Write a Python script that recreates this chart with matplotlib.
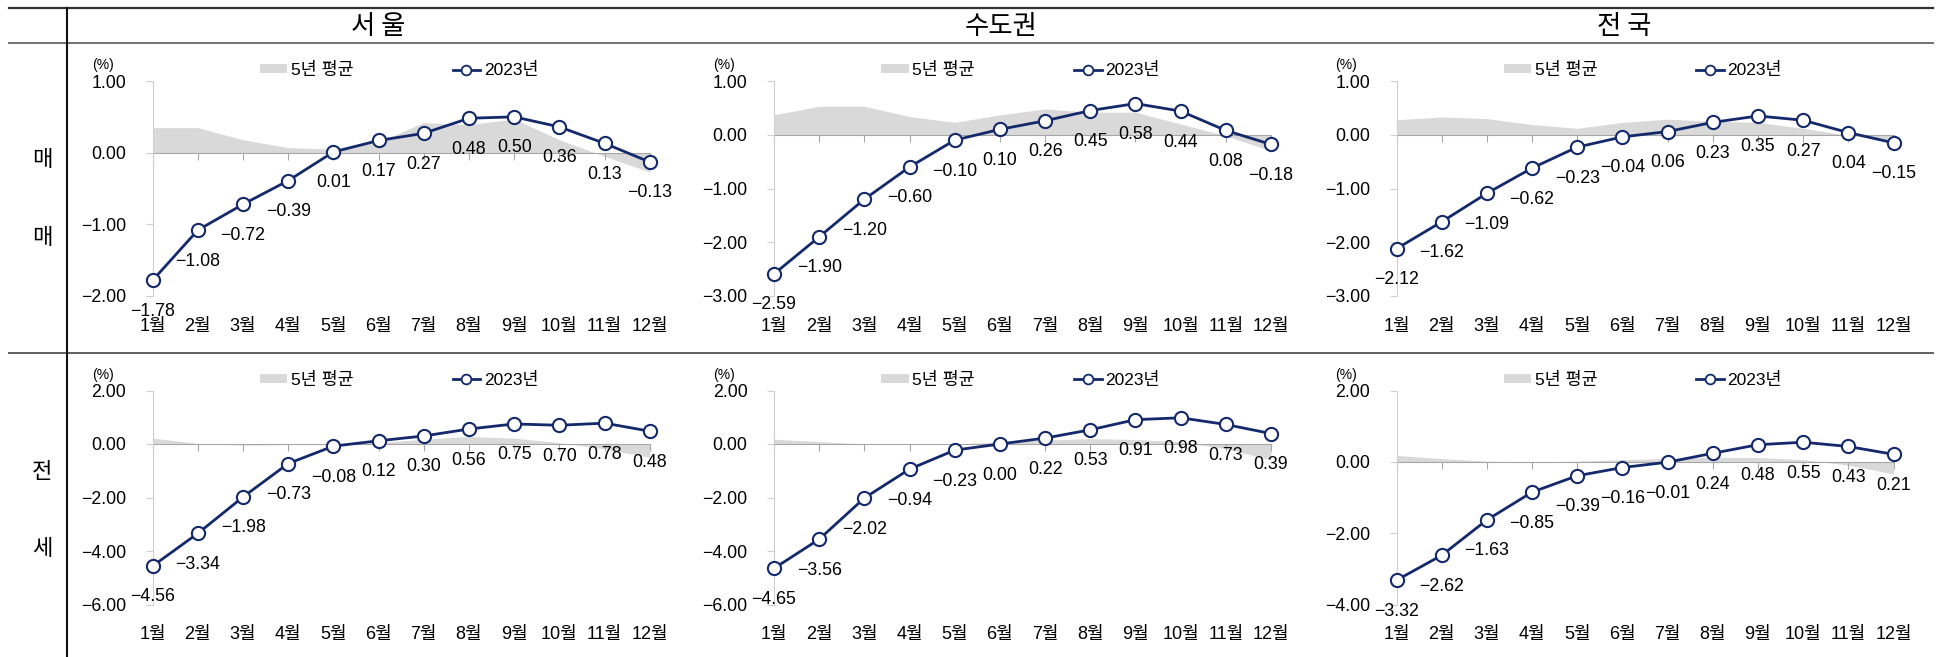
import matplotlib
matplotlib.use('Agg')
import matplotlib.pyplot as plt
from matplotlib.lines import Line2D
from matplotlib.patches import Patch
from matplotlib.ticker import FuncFormatter
import matplotlib.transforms as mtransforms

W, H = 1936, 657
DPI = 100

plt.rcParams['font.family'] = ['Liberation Sans', 'Noto Sans CJK KR']
KR_FONT = ['Noto Sans CJK KR', 'Liberation Sans']

NAVY = '#13296b'
FILL = '#d9d9d9'

months = ['1월', '2월', '3월', '4월', '5월', '6월', '7월', '8월', '9월', '10월', '11월', '12월']
regions = ['서 울', '수도권', '전 국']
row_labels = [['매', '매'], ['전', '세']]
legend_labels = ['5년 평균', '2023년']

# 매매 (sale) - 5 year average / 2023
sale_avg_seoul = [0.35, 0.35, 0.18, 0.07, 0.05, 0.15, 0.42, 0.39, 0.47, 0.18, -0.05, -0.27]
sale_avg_metro = [0.37, 0.53, 0.53, 0.34, 0.23, 0.37, 0.48, 0.42, 0.42, 0.20, -0.02, -0.30]
sale_avg_nation = [0.28, 0.33, 0.30, 0.19, 0.12, 0.23, 0.29, 0.25, 0.23, 0.12, -0.01, -0.10]
sale_2023_seoul = [-1.78, -1.08, -0.72, -0.39, 0.01, 0.17, 0.27, 0.48, 0.50, 0.36, 0.13, -0.13]
sale_2023_metro = [-2.59, -1.90, -1.20, -0.60, -0.10, 0.10, 0.26, 0.45, 0.58, 0.44, 0.08, -0.18]
sale_2023_nation = [-2.12, -1.62, -1.09, -0.62, -0.23, -0.04, 0.06, 0.23, 0.35, 0.27, 0.04, -0.15]

# 전세 (jeonse) - 5 year average / 2023
jeonse_avg_seoul = [0.22, 0.02, -0.04, -0.02, -0.02, 0.05, 0.18, 0.28, 0.22, 0.05, -0.18, -0.50]
jeonse_avg_metro = [0.18, 0.09, 0.00, -0.02, 0.00, 0.07, 0.15, 0.20, 0.17, 0.08, -0.17, -0.60]
jeonse_avg_nation = [0.18, 0.09, 0.02, 0.00, 0.02, 0.06, 0.09, 0.13, 0.12, 0.06, -0.09, -0.34]
jeonse_2023_seoul = [-4.56, -3.34, -1.98, -0.73, -0.08, 0.12, 0.30, 0.56, 0.75, 0.70, 0.78, 0.48]
jeonse_2023_metro = [-4.65, -3.56, -2.02, -0.94, -0.23, 0.00, 0.22, 0.53, 0.91, 0.98, 0.73, 0.39]
jeonse_2023_nation = [-3.32, -2.62, -1.63, -0.85, -0.39, -0.16, -0.01, 0.24, 0.48, 0.55, 0.43, 0.21]

sale_ylims = [(-2, 1, 1), (-3, 1, 1), (-3, 1, 1)]
jeonse_ylims = [(-6, 2, 2), (-6, 2, 2), (-4, 2, 2)]

# layout in pixels
COL_LEFT = [152.7, 774.0, 1396.5]
AX_W = 497.0
ROW_TOP = [81.0, 390.5]
ROW_BOT = [296.0, 604.5]


def fmt(v):
    return f'{v:.2f}'.replace('-', '\u2212')


fig = plt.figure(figsize=(W / DPI, H / DPI), dpi=DPI)


def draw_panel(col, row, avg, cur, ylim):
    left = COL_LEFT[col] / W
    bottom = 1 - ROW_BOT[row] / H
    height = (ROW_BOT[row] - ROW_TOP[row]) / H
    ax = fig.add_axes([left, bottom, AX_W / W, height])
    x = list(range(len(months)))

    ax.fill_between(x, 0, avg, color=FILL, lw=0, zorder=1)
    ax.plot(x, cur, color=NAVY, lw=2.0, marker='o', ms=9.5, mfc='white',
            mec=NAVY, mew=1.5, zorder=4, clip_on=False)

    lo, hi, step = ylim
    ax.set_xlim(0, 11)
    ax.set_ylim(lo, hi)
    ticks = [lo + i * step for i in range(int((hi - lo) / step) + 1)]
    ax.set_yticks(ticks)
    ax.yaxis.set_major_formatter(FuncFormatter(lambda v, p: fmt(v)))
    ax.set_xticks(x)
    ax.tick_params(axis='x', direction='out', length=5, color='#a6a6a6',
                   labelbottom=False)
    ax.tick_params(axis='y', direction='out', length=5, color='#d0d0d0',
                   pad=14, labelsize=12.8)

    for s in ['top', 'right']:
        ax.spines[s].set_visible(False)
    ax.spines['left'].set_color('#d0d0d0')
    ax.spines['bottom'].set_position(('data', 0))
    ax.spines['bottom'].set_color('#a6a6a6')
    ax.spines['bottom'].set_zorder(2)

    # value labels
    for i, v in enumerate(cur):
        ax.annotate(fmt(v), xy=(i, v), xytext=(0, -31), textcoords='offset pixels',
                    ha='center', va='center', fontsize=12.8, zorder=5)

    # month labels under the plot area
    trans = mtransforms.blended_transform_factory(ax.transData, ax.transAxes)
    for i, m in enumerate(months):
        ax.annotate(m, xy=(i, 0), xycoords=trans, xytext=(0, -30),
                    textcoords='offset pixels', ha='center', va='center', fontsize=13)

    # unit
    ax.annotate('(%)', xy=(0, 1), xycoords='axes fraction', xytext=(-50, 16),
                textcoords='offset pixels', ha='center', va='center', fontsize=10)

    handles = [Patch(facecolor=FILL, edgecolor='none'),
               Line2D([], [], color=NAVY, lw=2.0, marker='o', ms=7, mfc='white',
                      mec=NAVY, mew=1.3)]
    ax_h = ROW_BOT[row] - ROW_TOP[row]
    ax.legend(handles, legend_labels, ncol=2, frameon=False, loc='center left',
              bbox_to_anchor=(107 / AX_W, 1 + 11 / ax_h), borderaxespad=0, borderpad=0,
              handlelength=1.6, handleheight=0.45, handletextpad=0.2,
              columnspacing=5.7, fontsize=12.5)
    return ax


sale_avg = [sale_avg_seoul, sale_avg_metro, sale_avg_nation]
sale_cur = [sale_2023_seoul, sale_2023_metro, sale_2023_nation]
jeonse_avg = [jeonse_avg_seoul, jeonse_avg_metro, jeonse_avg_nation]
jeonse_cur = [jeonse_2023_seoul, jeonse_2023_metro, jeonse_2023_nation]

for c in range(3):
    draw_panel(c, 0, sale_avg[c], sale_cur[c], sale_ylims[c])
    draw_panel(c, 1, jeonse_avg[c], jeonse_cur[c], jeonse_ylims[c])


# table frame lines
def hline(y, x0, x1, color, lw):
    fig.add_artist(Line2D([x0 / W, x1 / W], [1 - y / H, 1 - y / H], color=color,
                          lw=lw, transform=fig.transFigure))


hline(8.3, 9, 1933, '#333333', 1.6)
hline(42.7, 9, 1933, '#707070', 1.4)
hline(352.7, 9, 1933, '#606060', 1.4)
fig.add_artist(Line2D([66.7 / W, 66.7 / W], [1 - 8.3 / H, 0], color='#111111', lw=1.5,
                      transform=fig.transFigure))

# column titles
col_centers = [378.5, 1001.5, 1624.5]
for cx, name in zip(col_centers, regions):
    fig.text(cx / W, 1 - 26.7 / H, name, ha='center', va='center', fontsize=19,
             family=KR_FONT, fontweight='light')

# row labels
row_label_y = [[160, 237], [471.7, 548.3]]
for r in range(2):
    for ch, y in zip(row_labels[r], row_label_y[r]):
        fig.text(42 / W, 1 - y / H, ch, ha='center', va='center', fontsize=16,
                 family=KR_FONT, fontweight='light')

fig.savefig('out.png', dpi=DPI)
